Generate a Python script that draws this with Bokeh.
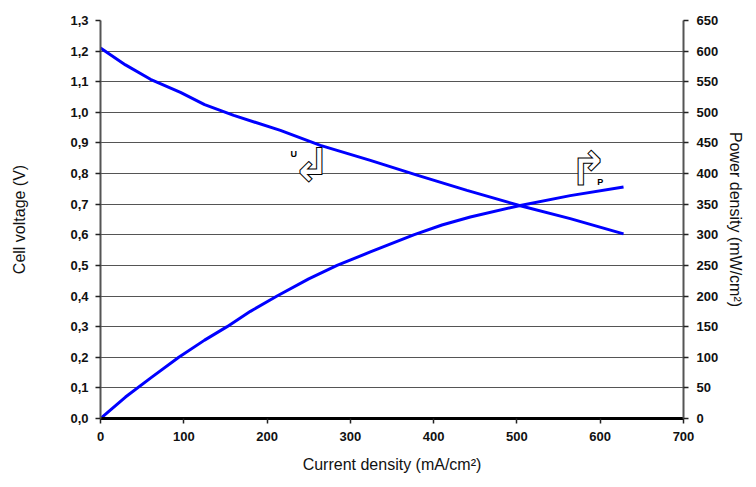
from bokeh.plotting import figure
from bokeh.models import Range1d, LinearAxis, FixedTicker
from bokeh.core.properties import value
from bokeh.embed import file_html
from bokeh.resources import INLINE

# ---- data ----
u_current = [0, 30, 60, 96, 125, 160, 216, 264, 324, 380, 440, 504, 564, 628]
u_voltage = [1.21, 1.155, 1.108, 1.065, 1.025, 0.99, 0.941, 0.892, 0.843, 0.795, 0.745, 0.695, 0.653, 0.603]

p_current = [0, 30, 60, 94, 125, 152, 180, 212, 250, 284, 324, 376, 410, 444, 504, 564, 628]
p_power = [0, 35, 66, 100, 128, 150, 175, 200, 228, 250, 272, 300, 316, 329, 348, 364, 378]

x_ticks = [0, 100, 200, 300, 400, 500, 600, 700]
v_ticks = [0.0, 0.1, 0.2, 0.3, 0.4, 0.5, 0.6, 0.7, 0.8, 0.9, 1.0, 1.1, 1.2, 1.3]
v_labels = ["0,0", "0,1", "0,2", "0,3", "0,4", "0,5", "0,6", "0,7", "0,8", "0,9", "1,0", "1,1", "1,2", "1,3"]
p_ticks = [0, 50, 100, 150, 200, 250, 300, 350, 400, 450, 500, 550, 600, 650]

x_title = "Current density (mA/cm²)"
v_title = "Cell voltage (V)"
p_title = "Power density (mW/cm²)"

FONT = "Liberation Sans"
TICK_SIZE = "13px"
TITLE_SIZE = "16px"

p = figure(output_backend="svg", toolbar_location=None,
           frame_width=583, frame_height=398,
           min_border_left=100, min_border_right=57,
           min_border_top=20, min_border_bottom=53,
           x_range=Range1d(0, 700), y_range=Range1d(0, 1.3),
           background_fill_color="white", border_fill_color="white")
p.outline_line_color = None
p.extra_y_ranges = {"p": Range1d(0, 650)}

# grid
p.xgrid.grid_line_color = None
p.ygrid.ticker = FixedTicker(ticks=v_ticks)
p.ygrid.grid_line_color = "#555555"
p.ygrid.grid_line_width = 1.2


def style_axis(ax, line_color, line_width, label_standoff, title_standoff):
    ax.axis_line_color = line_color
    ax.axis_line_width = line_width
    ax.major_tick_line_color = "#222222"
    ax.major_tick_line_width = 1.5
    ax.major_tick_out = 5
    ax.major_tick_in = 0
    ax.minor_tick_line_color = None
    ax.major_label_text_font = FONT
    ax.major_label_text_font_style = "bold"
    ax.major_label_text_font_size = TICK_SIZE
    ax.major_label_text_color = "#111111"
    ax.major_label_standoff = label_standoff
    ax.axis_label_text_font = FONT
    ax.axis_label_text_font_style = "normal"
    ax.axis_label_text_font_size = TITLE_SIZE
    ax.axis_label_text_color = "#111111"
    ax.axis_label_standoff = title_standoff


# bottom axis
xa = p.xaxis[0]
xa.ticker = FixedTicker(ticks=x_ticks)
xa.axis_label = x_title
style_axis(xa, "black", 3, 8, 12)

# left axis
ya = p.yaxis[0]
ya.ticker = FixedTicker(ticks=v_ticks)
ya.major_label_overrides = {t: l for t, l in zip(v_ticks, v_labels)}
ya.axis_label = v_title
style_axis(ya, "#555555", 2, 7, 39)

# right axis
ra = LinearAxis(y_range_name="p", ticker=FixedTicker(ticks=p_ticks))
ra.axis_label = p_title
style_axis(ra, "#555555", 2, 8, 6)
p.add_layout(ra, "right")

# curves
p.line(u_current, u_voltage, line_color="#0000ff", line_width=3)
p.line(p_current, p_power, line_color="#0000ff", line_width=3, y_range_name="p")

# annotations (curve labels with hollow arrows)
p.text(x=[253], y=[0.827], text=["↲"], text_font=value("DejaVu Sans"),
       text_font_style="bold", text_font_size="46px", text_align="center",
       text_baseline="middle", text_color="white",
       text_outline_color="black")
p.text(x=[232], y=[0.865], text=["U"], text_font=value(FONT),
       text_font_style="bold", text_font_size="9px", text_align="center",
       text_baseline="middle", text_color="black")
p.text(x=[586], y=[408], text=["↱"], text_font=value("DejaVu Sans"),
       text_font_style="bold", text_font_size="46px", text_align="center",
       text_baseline="middle", text_color="white",
       text_outline_color="black", y_range_name="p")
p.text(x=[600], y=[386], text=["P"], text_font=value(FONT),
       text_font_style="bold", text_font_size="9px", text_align="center",
       text_baseline="middle", text_color="black", y_range_name="p")

open("out.html", "w").write(file_html(p, INLINE))
